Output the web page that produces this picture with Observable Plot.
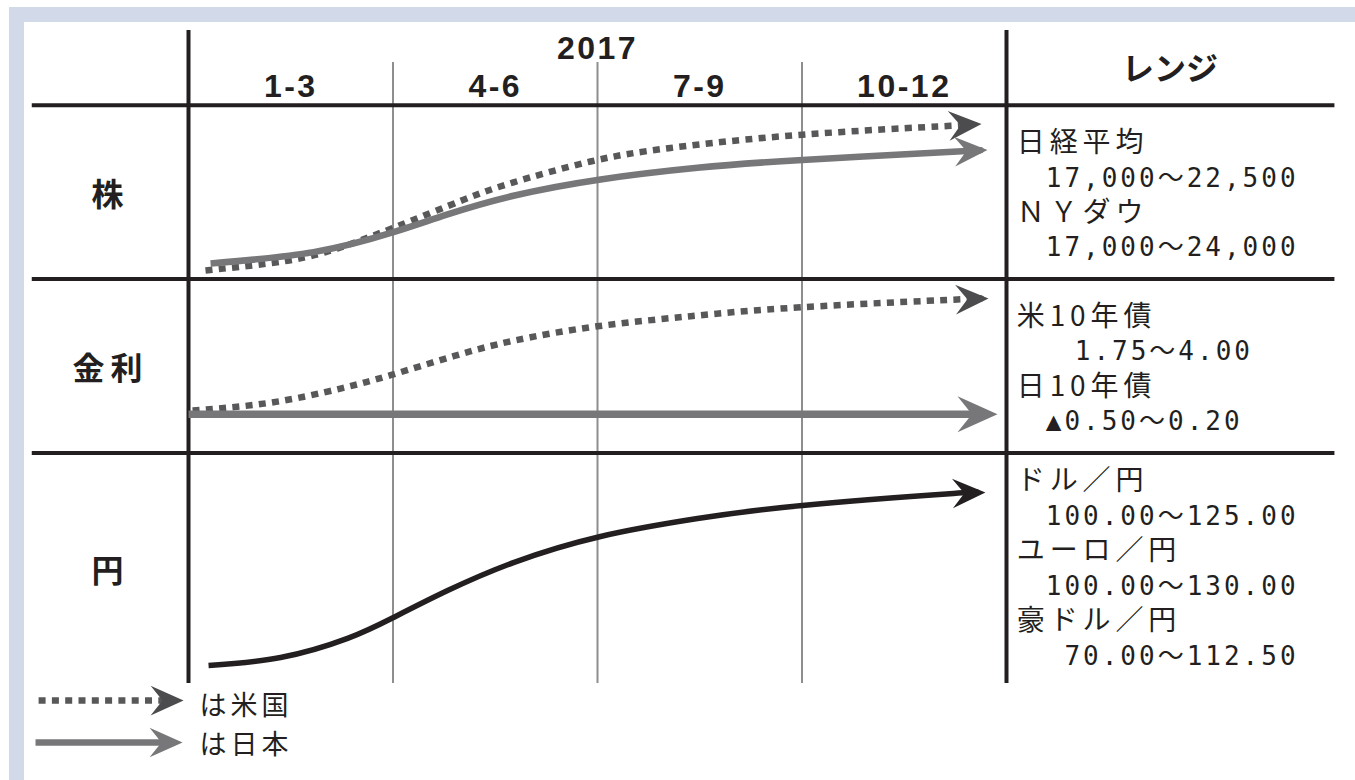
<!DOCTYPE html>
<html><head><meta charset="utf-8">
<script src="https://cdn.jsdelivr.net/npm/d3@7"></script>
<script src="https://cdn.jsdelivr.net/npm/@observablehq/plot@0.6"></script>
<style>
html,body{margin:0;padding:0;background:#fff;width:1355px;height:780px;overflow:hidden;}
#frame{position:absolute;left:9px;top:7px;right:0;bottom:0;border-top:15px solid #d2d9e8;border-left:15px solid #d2d9e8;background:#fff;}
#chart{position:absolute;left:0;top:0;}
</style></head><body><div id="frame"></div><div id="chart"></div>
<script>
// ---- data ----
const yearLabel = "2017";
const quarterLabels = ["1-3", "4-6", "7-9", "10-12"];
const rangeTitle = "レンジ";
const rowNames = ["株", "金利", "円"];
// curve points: [quarter position (0 = start of 1-3, 4 = end of 10-12), level within its row]
const stockUS = [[0.083,4.9],[0.484,10.5],[0.743,18.1],[1.002,29.4],[1.345,45.5],[1.589,55.5],[1.966,67.5],[2.357,75.3],[3.002,82.9],[3.726,88.0],[3.878,89.1]];
const stockJP = [[0.108,8.9],[0.611,15.4],[1.002,26.9],[1.267,37.1],[1.589,47.8],[2.015,57.2],[2.489,63.9],[3.002,68.4],[3.760,73.3],[3.907,74.1]];
const rateUS = [[0.020,24.4],[0.401,28.9],[0.743,37.0],[0.988,44.7],[1.296,55.6],[1.589,64.5],[2.0,72.8],[2.455,78.6],[2.993,83.7],[3.760,88.2],[3.912,88.8]];
const rateJP = [[0.0,22.2],[3.956,22.2]];
const yenLine = [[0.098,10.3],[0.450,14.9],[0.778,25.9],[1.002,37.9],[1.267,53.4],[1.589,69.5],[2.015,84.5],[2.489,94.8],[3.002,102.3],[3.741,109.2],[3.897,109.8]];
const rangeStock = ["日経平均", "　17,000～22,500", "ＮＹダウ", "　17,000～24,000"];
const rangeRate = ["米10年債", "　　1.75～4.00", "日10年債", "　▲0.50～0.20"];
const rangeYen = ["ドル／円", "　100.00～125.00", "ユーロ／円", "　100.00～130.00", "豪ドル／円", "\u00A0　70.00～112.50"];
const legendLabels = ["は米国", "は日本"];

// ---- layout (scale geometry) ----
const PXQ = 204.5, PXL = 1.74;            // px per quarter, px per level unit
const rowTop = [332.3, 232.5, 132.5];      // level of each row's top rule
const rowFloor = [232.5, 132.5, 0];        // level of each row's bottom rule
const headerTop = 375.3;
const tableLeft = -0.764, tableRight = 5.606, rangeX = 4.05, labelX = -0.381;
const INK = "#231f20";

const arrowSymbol = {
  draw(ctx, size) {
    const s = Math.sqrt(size / Math.PI);
    ctx.moveTo(0, 0);
    ctx.lineTo(-s, -0.45 * s);
    ctx.lineTo(-0.64 * s, 0);
    ctx.lineTo(-s, 0.45 * s);
    ctx.closePath();
  }
};

function prep(pts, floor, r) {
  const P = pts.map(([q, l]) => ({x: q, y: floor + l}));
  const t = P[P.length - 1], p = P[P.length - 2];
  const dx = (t.x - p.x) * PXQ, dy = (t.y - p.y) * PXL;
  const d = Math.hypot(dx, dy);
  const back = r * 0.45;
  const end = {x: t.x - (t.x - p.x) * back / d, y: t.y - (t.y - p.y) * back / d};
  const angle = -Math.atan2(dy, dx) * 180 / Math.PI;
  return {line: [...P.slice(0, -1), end], tip: [{x: t.x, y: t.y, angle}]};
}

const series = [
  {pts: stockUS, floor: rowFloor[0], stroke: "#58585a", head: "#4c4c4e", w: 6.5, dash: "7,6.3", r: 33},
  {pts: stockJP, floor: rowFloor[0], stroke: "#77777a", head: "#77777a", w: 6.5, dash: null, r: 33},
  {pts: rateUS, floor: rowFloor[1], stroke: "#58585a", head: "#4c4c4e", w: 6.5, dash: "7,6.3", r: 33},
  {pts: rateJP, floor: rowFloor[1], stroke: "#77777a", head: "#77777a", w: 7.5, dash: null, r: 40},
  {pts: yenLine, floor: rowFloor[2], stroke: INK, head: INK, w: 5.5, dash: null, r: 33},
  {pts: [[-0.733, 0], [-0.024, 0]], floor: -9.8, stroke: "#58585a", head: "#4c4c4e", w: 6.5, dash: "7,6.3", r: 33},
  {pts: [[-0.748, 0], [-0.029, 0]], floor: -33.9, stroke: "#77777a", head: "#77777a", w: 6.5, dash: null, r: 33}
];

const marks = [];
// quarter gridlines
marks.push(Plot.ruleX([1, 2, 3], {y1: 0, y2: 356.9, stroke: "#8e8e8e", strokeWidth: 2}));
// table rules
marks.push(Plot.ruleY(rowTop, {x1: tableLeft, x2: tableRight, stroke: INK, strokeWidth: 4}));
marks.push(Plot.ruleX([0, 4], {y1: 0, y2: headerTop, stroke: INK, strokeWidth: 4}));

for (const s of series) {
  const {line, tip} = prep(s.pts, s.floor, s.r);
  const opts = {x: "x", y: "y", stroke: s.stroke, strokeWidth: s.w, curve: "natural", strokeLinecap: "butt"};
  if (s.dash) opts.strokeDasharray = s.dash;
  marks.push(Plot.line(line, opts));
  marks.push(Plot.dot(tip, {x: "x", y: "y", rotate: "angle", r: s.r, symbol: arrowSymbol, fill: s.head, stroke: "none"}));
}

// header text
const LAT = "Liberation Sans, Arial, sans-serif";
marks.push(Plot.text([yearLabel], {x: 2, y: 364.7, text: d => d, fontFamily: LAT, fontWeight: "bold", fontSize: 32, fill: INK}));
marks.push(Plot.text(quarterLabels, {x: (d, i) => i + 0.5, y: 343.1, text: d => d, fontFamily: LAT, fontWeight: "bold", fontSize: 32, fill: INK}));
marks.push(Plot.text([rangeTitle], {x: 4.80, y: 352.9, text: d => d, fontFamily: "Noto Sans CJK JP", fontWeight: "bold", fontSize: 32, fill: INK}));
// row names
marks.push(Plot.text(rowNames, {x: labelX, y: (d, i) => (rowTop[i] + rowFloor[i]) / 2 - 2.3, text: d => d, fontFamily: "Noto Sans CJK JP", fontWeight: "bold", fontSize: 32, fill: INK}));
// range text
const rangeRows = [rangeStock, rangeRate, rangeYen];
const firstOff = [21.8, 21.8, 16.4];
const rangeData = rangeRows.flatMap((lines, r) => lines.map((t, i) => ({t, i, y: rowTop[r] - firstOff[r] - i * 20.1})));
marks.push(Plot.text(rangeData.filter(d => d.i % 2 === 0), {x: rangeX, y: "y", text: "t", textAnchor: "start", fontFamily: "Noto Sans CJK JP", fontSize: 28, fill: INK}));
marks.push(Plot.text(rangeData.filter(d => d.i % 2 === 1), {x: rangeX, y: "y", text: "t", textAnchor: "start", fontFamily: "DejaVu Sans Mono, Noto Sans CJK JP, monospace", fontSize: 26, fill: INK}));
// legend text
marks.push(Plot.text(legendLabels, {x: 0.054, y: (d, i) => [-13.2, -35.6][i], text: d => d, textAnchor: "start", fontFamily: "Noto Sans CJK JP", fontSize: 27, fill: INK}));

const chart = Plot.plot({
  width: 1355,
  height: 780,
  margin: 0,
  x: {type: "linear", domain: [0, 4], range: [188, 188 + 4 * PXQ], axis: null},
  y: {type: "linear", domain: [0, 100], range: [683, 683 - 100 * PXL], axis: null},
  style: {background: "transparent", overflow: "visible"},
  marks
});
// letter spacing (typographic tracking) by text group
const spacing = new Map();
[yearLabel, ...quarterLabels].forEach(t => spacing.set(t, 2.5));
rowNames.forEach(t => spacing.set(t, 6));
rangeData.forEach(d => spacing.set(d.t, d.i % 2 === 0 ? 4.9 : 3.0));
legendLabels.forEach(t => spacing.set(t, 4));
chart.querySelectorAll("text").forEach(el => {
  const ls = spacing.get(el.textContent);
  if (ls != null) el.style.letterSpacing = ls + "px";
});
document.getElementById("chart").appendChild(chart);
</script></body></html>
